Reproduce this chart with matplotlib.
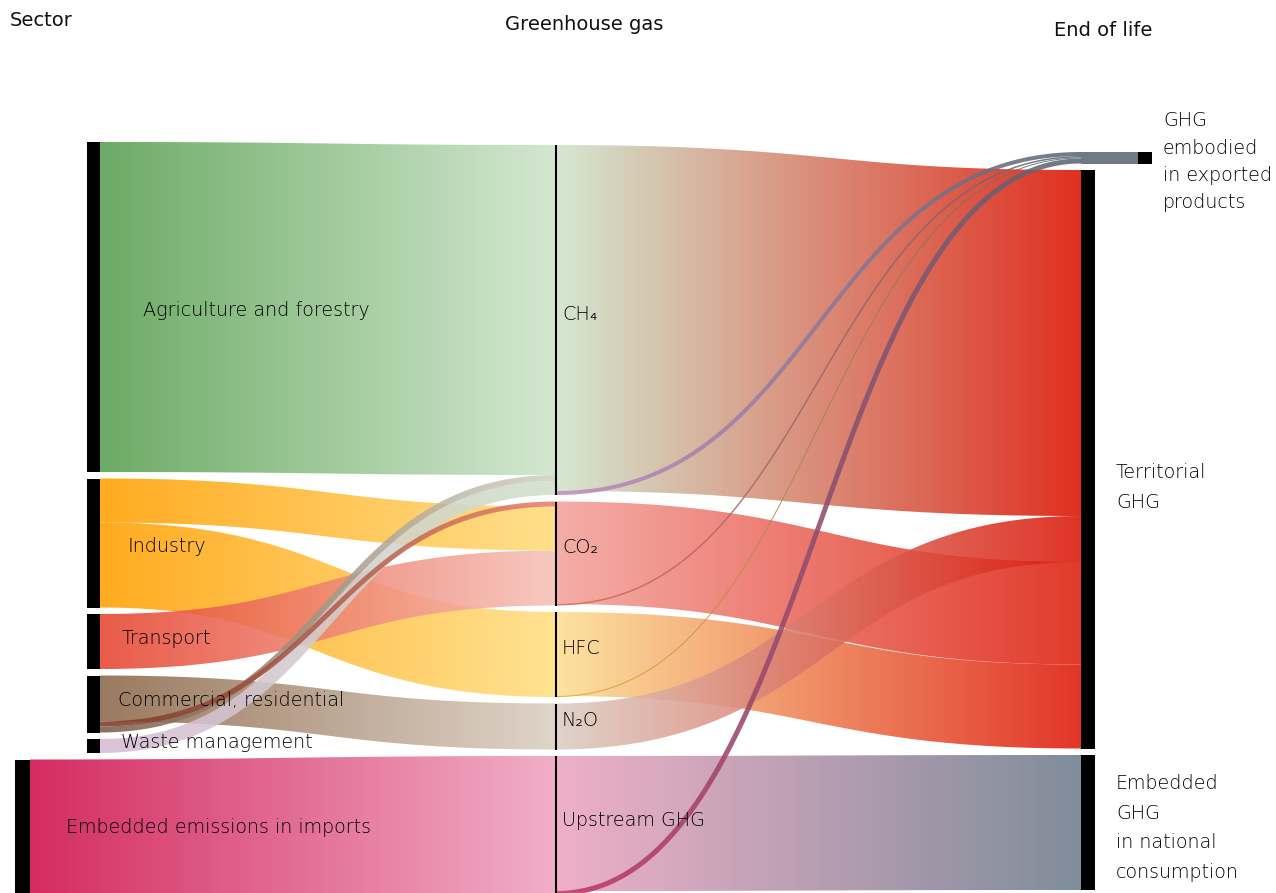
import numpy as np
import matplotlib
matplotlib.use("Agg")
import matplotlib.pyplot as plt
from matplotlib.path import Path
from matplotlib.patches import PathPatch, Rectangle
from matplotlib.colors import to_rgb

# ---------------- data ----------------
sectors = ["Agriculture and forestry", "Industry", "Transport",
           "Commercial, residential", "Waste management",
           "Embedded emissions in imports"]
gases = ["CH₄", "CO₂", "HFC", "N₂O", "Upstream GHG"]
ends = ["GHG\nembodied\nin exported\nproducts", "Territorial\nGHG",
        "Embedded\nGHG\nin national\nconsumption"]
headers = ["Sector", "Greenhouse gas", "End of life"]

# sector -> gas flows
sg_source = [0, 1, 1, 2, 3, 3, 3, 4, 5]
sg_target = [0, 1, 2, 1, 3, 1, 0, 0, 4]
sg_value = [330, 44, 85, 55, 46, 5, 6, 14, 140]

# gas -> end-of-life flows
ge_source = [0, 0, 1, 1, 2, 2, 3, 4, 4]
ge_target = [1, 0, 1, 0, 1, 0, 1, 2, 0]
ge_value = [346, 4, 102.5, 1.5, 84, 1, 46, 135, 5]

# stacking order of incoming links at each target (by source index)
gas_in_order = [[0, 3, 4], [3, 1, 2], [1], [3], [5]]
end_in_order = [[0, 1, 2, 4], [0, 3, 1, 2], [4]]

# ---------------- style ----------------
SCALE = 1.0
GAP = 6.5
col_top = [142, 145, 152]
sector_bar_x = [87, 87, 87, 87, 87, 15]
sector_bar_w = [13, 13, 13, 13, 13, 15]
GAS_X = 556
END_X = 1081
END_BAR_W = 14
EXPORT_BAR_X = 1138
EXPORT_COLOR = "#6f7a87"
ALPHA = 0.88

sg_colors = [("#6cab65", "#d4e8d1"), ("#ffab00", "#ffe08c"), ("#ffab00", "#ffe392"),
             ("#ea5b48", "#f7c9c0"), ("#9a7a5f", "#e0d5ca"), ("#8c5040", "#e8907f"),
             ("#8a7262", "#d8d8cc"), ("#dcc3da", "#d4e5cf"), ("#d42b61", "#f2afc8")]
ge_colors = [("#d4e8d1", "#e02f1f"), ("#c99ac6", "#6f7a87"), ("#f5aea8", "#e23a2a"),
             ("#e07a70", "#6f7a87"), ("#fde3a0", "#e23528"), ("#e8b040", "#6f7a87"),
             ("#e0d4ca", "#e03426"), ("#efb0c8", "#7f8d9b"), ("#c84d79", "#6f7a87")]

sector_label_x = [143, 128, 122, 118, 121, 66]
sector_label_dy = [4, 3, -3, -4, -4, -2]
gas_label_dy = -6
end_label_x = [1163, 1116, 1116]
end_label_dy = [4, 28, 5.5]
end_linespacing = [1.55, 1.7, 1.7]
header_pos = [(10, 20, "left"), (505, 24, "left"), (1054, 30, "left")]

FONT = ["DejaVu Sans"]
TXT = "#000000"

# ---------------- layout ----------------
n_s, n_g, n_e = len(sectors), len(gases), len(ends)
s_val = [sum(v for s, v in zip(sg_source, sg_value) if s == i) for i in range(n_s)]
g_in = [sum(v for t, v in zip(sg_target, sg_value) if t == i) for i in range(n_g)]
g_out = [sum(v for s, v in zip(ge_source, ge_value) if s == i) for i in range(n_g)]
g_val = [max(a, b) for a, b in zip(g_in, g_out)]
e_val = [sum(v for t, v in zip(ge_target, ge_value) if t == i) for i in range(n_e)]


def stack(vals, top):
    ys, y = [], top
    for v in vals:
        ys.append(y)
        y += v * SCALE + GAP
    return ys


s_y = stack(s_val, col_top[0])
g_y = stack(g_val, col_top[1])
e_y = stack(e_val, col_top[2])


def link_positions(src, tgt, val, src_y, tgt_y, in_order):
    off = list(src_y)
    y0 = []
    for s, v in zip(src, val):
        y0.append(off[s] + v * SCALE / 2)
        off[s] += v * SCALE
    y1 = [0.0] * len(src)
    for t, order in enumerate(in_order):
        y = tgt_y[t]
        for s in order:
            k = [i for i in range(len(src)) if src[i] == s and tgt[i] == t][0]
            y1[k] = y + val[k] * SCALE / 2
            y += val[k] * SCALE
    return y0, y1


sg_y0, sg_y1 = link_positions(sg_source, sg_target, sg_value, s_y, g_y, gas_in_order)
ge_y0, ge_y1 = link_positions(ge_source, ge_target, ge_value, g_y, e_y, end_in_order)


def apparent(c, a):
    c = np.array(to_rgb(c))
    return np.clip((c - (1 - a)) / a, 0, 1)


def band(ax, x0, y0, x1, y1, w, c0, c1, z, a=ALPHA, n=200):
    t = np.linspace(0, 1, n)[:, None]
    xm = (x0 + x1) / 2
    P0, P1, P2, P3 = (np.array(p) for p in ([x0, y0], [xm, y0], [xm, y1], [x1, y1]))
    pts = (1 - t) ** 3 * P0 + 3 * (1 - t) ** 2 * t * P1 + 3 * (1 - t) * t ** 2 * P2 + t ** 3 * P3
    d = 3 * (1 - t) ** 2 * (P1 - P0) + 6 * (1 - t) * t * (P2 - P1) + 3 * t ** 2 * (P3 - P2)
    nrm = np.column_stack([-d[:, 1], d[:, 0]]) / np.linalg.norm(d, axis=1)[:, None]
    up = pts + nrm * w / 2
    lo = pts - nrm * w / 2
    poly = np.vstack([up, lo[::-1], up[:1]])
    patch = PathPatch(Path(poly, closed=True), facecolor="none", edgecolor="none",
                      transform=ax.transData)
    ca, cb = apparent(c0, a), apparent(c1, a)
    g = np.linspace(0, 1, 512)[:, None]
    rgb = ca[None, :] * (1 - g) + cb[None, :] * g
    img = np.ones((2, 512, 4))
    img[:, :, :3] = rgb[None, :, :]
    img[:, :, 3] = a
    ymin, ymax = poly[:, 1].min() - 2, poly[:, 1].max() + 2
    im = ax.imshow(img, extent=(x0, x1, ymax, ymin), aspect="auto",
                   interpolation="bilinear", zorder=z)
    im.set_clip_path(patch)


fig = plt.figure(figsize=(12.76, 8.93), dpi=100)
ax = fig.add_axes([0, 0, 1, 1])
ax.axis("off")

# sector -> gas links (wide first)
for rank, k in enumerate(sorted(range(len(sg_value)), key=lambda i: -sg_value[i])):
    s = sg_source[k]
    x0 = sector_bar_x[s] + sector_bar_w[s]
    band(ax, x0, sg_y0[k], GAS_X, sg_y1[k], sg_value[k] * SCALE,
         sg_colors[k][0], sg_colors[k][1], z=1 + rank * 0.01)

# gas -> end links
for rank, k in enumerate(sorted(range(len(ge_value)), key=lambda i: -ge_value[i])):
    band(ax, GAS_X, ge_y0[k], END_X, ge_y1[k], ge_value[k] * SCALE,
         ge_colors[k][0], ge_colors[k][1], z=2 + rank * 0.01)

# node bars
for i in range(n_s):
    ax.add_patch(Rectangle((sector_bar_x[i], s_y[i]), sector_bar_w[i], s_val[i] * SCALE,
                           facecolor="black", edgecolor="none", zorder=5))
for i in range(n_g):
    ax.plot([GAS_X, GAS_X], [g_y[i], g_y[i] + g_val[i] * SCALE], color="black",
            lw=1.5, solid_capstyle="butt", zorder=5)
# exported node: grey band then black bar
ax.add_patch(Rectangle((END_X, e_y[0]), EXPORT_BAR_X - END_X, e_val[0] * SCALE,
                       facecolor=EXPORT_COLOR, edgecolor="none", zorder=5))
ax.add_patch(Rectangle((EXPORT_BAR_X, e_y[0]), END_BAR_W, e_val[0] * SCALE,
                       facecolor="black", edgecolor="none", zorder=5))
for i in range(1, n_e):
    ax.add_patch(Rectangle((END_X, e_y[i]), END_BAR_W, e_val[i] * SCALE,
                           facecolor="black", edgecolor="none", zorder=5))

# labels
LS = 13.8
LW = "light"
for i, name in enumerate(sectors):
    ax.text(sector_label_x[i], s_y[i] + s_val[i] * SCALE / 2 + sector_label_dy[i], name,
            family=FONT, fontsize=LS, fontweight=LW, color=TXT,
            va="center", ha="left", zorder=6)
for i, name in enumerate(gases):
    ax.text(GAS_X + 6, g_y[i] + g_val[i] * SCALE / 2 + gas_label_dy, name,
            family=FONT, fontsize=LS, fontweight=LW, color=TXT,
            va="center", ha="left", zorder=6)
for i, name in enumerate(ends):
    ax.text(end_label_x[i], e_y[i] + e_val[i] * SCALE / 2 + end_label_dy[i], name,
            family=FONT, fontsize=LS, fontweight=LW, color=TXT,
            va="center", ha="left", linespacing=end_linespacing[i], zorder=6)
for (hx, hy, ha), name in zip(header_pos, headers):
    ax.text(hx, hy, name, family=FONT, fontsize=14, fontweight="normal",
            color="#111111", va="center", ha=ha, zorder=6)

ax.set_xlim(0, 1276)
ax.set_ylim(893, 0)
fig.savefig("out.png", dpi=100)
